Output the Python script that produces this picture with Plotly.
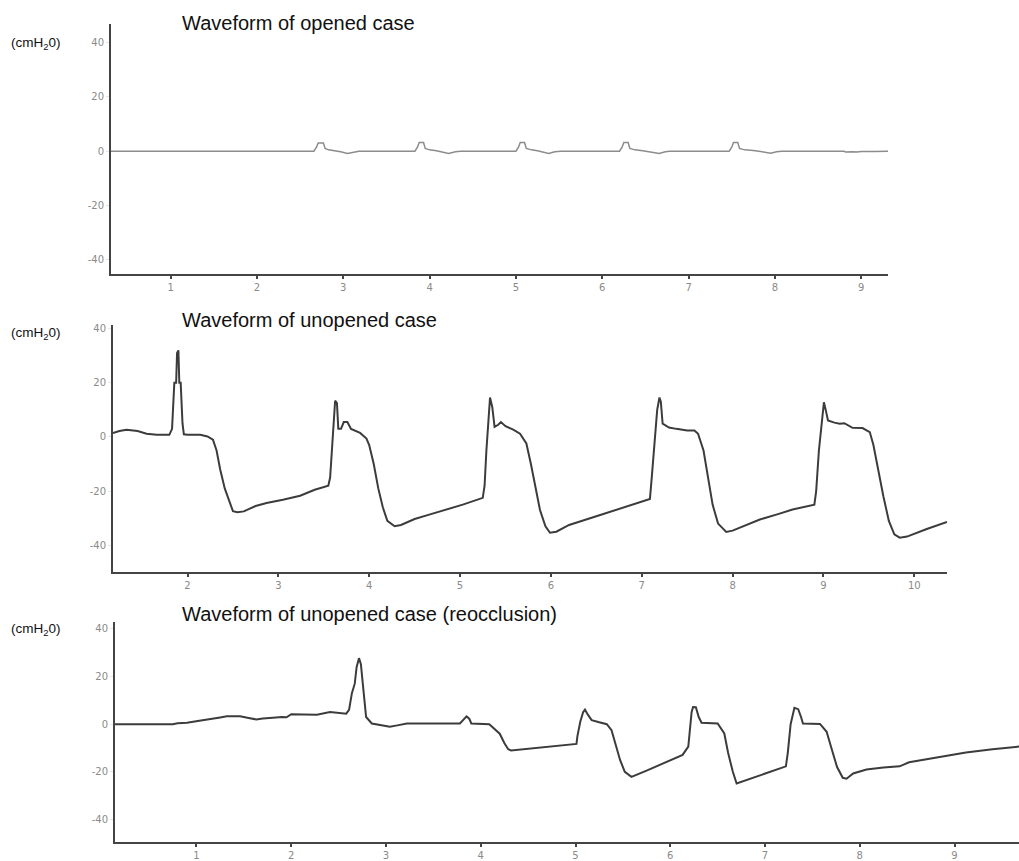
import plotly.graph_objects as go

W, H = 1019, 861

# ---------------- data ----------------
titles = ["Waveform of opened case",
          "Waveform of unopened case",
          "Waveform of unopened case (reocclusion)"]
unit_label = "(cmH<sub>2</sub>0)"

y_tick_vals = [-40, -20, 0, 20, 40]
y_tick_text = ["-40", "-20", "0", "20", "40"]
x_ticks_1 = [1, 2, 3, 4, 5, 6, 7, 8, 9]
x_ticks_2 = [2, 3, 4, 5, 6, 7, 8, 9, 10]
x_ticks_3 = [1, 2, 3, 4, 5, 6, 7, 8, 9]

# Opened case
t1 = [0.31, 1.0, 1.01, 1.5, 1.52, 2.0, 2.02, 2.55, 2.57,
      2.66, 2.69, 2.71, 2.77, 2.79, 2.83, 2.90, 2.97, 3.05, 3.12, 3.18,
      3.83, 3.86, 3.88, 3.93, 3.95, 4.00, 4.08, 4.15, 4.22, 4.30, 4.36,
      5.00, 5.03, 5.05, 5.10, 5.12, 5.18, 5.25, 5.32, 5.38, 5.45, 5.52,
      6.20, 6.23, 6.25, 6.30, 6.32, 6.38, 6.47, 6.55, 6.66, 6.73, 6.78,
      7.47, 7.50, 7.52, 7.57, 7.59, 7.65, 7.75, 7.85, 7.95, 8.02, 8.08,
      8.80, 8.82, 8.90, 8.95, 9.00, 9.10, 9.15, 9.31]
p1 = [0, 0, -0.15, -0.15, 0, 0, -0.15, -0.15, 0,
      0, 1.5, 3.0, 3.0, 1.0, 0.5, 0.2, -0.2, -0.8, -0.3, 0,
      0, 1.5, 3.2, 3.2, 1.0, 0.5, 0.2, -0.3, -0.8, -0.2, 0,
      0, 1.5, 3.2, 3.2, 1.0, 0.5, 0.2, -0.2, -0.8, -0.2, 0,
      0, 1.5, 3.2, 3.2, 1.0, 0.5, 0.2, -0.2, -0.8, -0.2, 0,
      0, 1.5, 3.2, 3.2, 1.0, 0.5, 0.3, -0.1, -0.7, -0.2, 0,
      0, -0.3, -0.2, -0.3, -0.1, -0.2, -0.1, 0]

# Unopened case
t2 = [1.18, 1.25, 1.33, 1.45, 1.55, 1.66, 1.80, 1.83, 1.855, 1.875, 1.885, 1.90,
      1.91, 1.925, 1.945, 1.96, 2.00, 2.14, 2.22, 2.28, 2.32, 2.36, 2.41, 2.46,
      2.50, 2.55, 2.62, 2.75, 2.87, 3.05, 3.24, 3.40, 3.55, 3.57, 3.59, 3.61,
      3.625, 3.645, 3.66, 3.69, 3.72, 3.76, 3.80, 3.90, 3.97, 4.00, 4.05, 4.10,
      4.15, 4.20, 4.28, 4.35, 4.50, 4.67, 4.85, 5.03, 5.25, 5.27, 5.29, 5.31,
      5.33, 5.355, 5.38, 5.42, 5.45, 5.50, 5.58, 5.66, 5.73, 5.78, 5.83, 5.88,
      5.94, 5.99, 6.06, 6.20, 6.50, 6.80, 7.09, 7.11, 7.14, 7.17, 7.195, 7.21,
      7.23, 7.30, 7.38, 7.50, 7.58, 7.62, 7.68, 7.73, 7.78, 7.84, 7.93, 8.00,
      8.15, 8.30, 8.50, 8.66, 8.90, 8.92, 8.95, 8.985, 9.005, 9.025, 9.05, 9.12,
      9.18, 9.23, 9.27, 9.32, 9.43, 9.51, 9.55, 9.60, 9.66, 9.72, 9.78, 9.84,
      9.92, 10.13, 10.36]
p2 = [1.5, 2.2, 2.7, 2.2, 1.2, 0.8, 0.8, 3, 20, 20, 31, 32,
      20, 20, 5, 1, 0.8, 0.8, 0.2, -1, -5, -12, -19, -24,
      -27.4, -27.8, -27.5, -25.5, -24.4, -23.2, -21.7, -19.5, -18, -15, -5, 3,
      13.4, 12.5, 3, 3, 5.5, 5.5, 3.0, 1.5, -0.6, -3, -10, -19,
      -26, -31, -33, -32.5, -30.3, -28.6, -26.8, -25, -22.5, -18, -5, 5,
      14.6, 11, 3.7, 4.5, 5.5, 4, 2.8, 1.2, -2.4, -10, -19, -27,
      -33, -35.4, -35, -32.5, -29.3, -26, -22.9, -15, -2, 10, 14.6, 13,
      4.9, 3.5, 3.0, 2.4, 2.4, 1.2, -5, -15, -25, -32, -35.1, -34.6,
      -32.5, -30.5, -28.5, -26.8, -25, -20, -5, 6, 12.8, 10, 6.1, 5.3,
      4.9, 5.1, 4.2, 3.4, 3.3, 1.8, -3, -12, -22, -31, -36, -37.2,
      -36.8, -34.1, -31.4]

# Unopened case (reocclusion)
t3 = [0.14, 0.75, 0.80, 0.90, 1.03, 1.15, 1.25, 1.32, 1.46, 1.55, 1.63, 1.70,
      1.80, 1.84, 1.90, 1.95, 2.00, 2.15, 2.27, 2.41, 2.50, 2.58, 2.61, 2.64,
      2.67, 2.69, 2.715, 2.735, 2.755, 2.77, 2.79, 2.85, 2.95, 3.04, 3.12, 3.22,
      3.78, 3.82, 3.85, 3.88, 3.90, 4.09, 4.16, 4.20, 4.25, 4.29, 4.32, 5.01,
      5.02, 5.05, 5.08, 5.10, 5.13, 5.17, 5.25, 5.33, 5.38, 5.42, 5.47, 5.52,
      5.59, 5.75, 5.89, 6.13, 6.19, 6.21, 6.225, 6.24, 6.27, 6.30, 6.33, 6.50,
      6.57, 6.61, 6.66, 6.70, 6.87, 7.05, 7.22, 7.24, 7.27, 7.31, 7.35, 7.38,
      7.40, 7.58, 7.65, 7.70, 7.76, 7.82, 7.86, 7.93, 8.07, 8.25, 8.42, 8.52,
      8.70, 8.88, 9.12, 9.40, 9.68]
p3 = [0, 0, 0.4, 0.6, 1.4, 2.0, 2.8, 3.3, 3.3, 2.6, 2.0, 2.4,
      2.5, 2.8, 3.0, 2.9, 4.2, 4.1, 4.0, 5.1, 4.6, 4.4, 6, 13,
      17, 24, 27.7, 25.2, 17, 10, 3, 0.3, -0.3, -1.1, -0.5, 0.3,
      0.3, 2, 3.3, 2.2, 0.3, 0, -2.5, -4, -8, -10.5, -11, -8.3,
      -5, 1, 5, 6.1, 4, 1.7, 0.8, 0, -2.5, -8, -15, -20,
      -22.1, -19.5, -17, -12.9, -9.4, -2, 5, 7.2, 7.1, 3, 0.6, 0.3,
      -3.9, -12, -20, -24.9, -22.5, -20, -17.7, -12, 0, 6.9, 6.3, 3,
      0.3, 0.1, -3.2, -10, -18, -22.5, -22.9, -20.7, -19, -18.2, -17.7, -16,
      -14.8, -13.5, -11.9, -10.5, -9.4]

# ---------------- layout helpers ----------------
def px_x(px):
    return px / W

def px_y(py):
    return 1 - py / H

panels = [
    dict(xl=111, xr=888, yt=22, yb=275, xr_=[0.31, 9.31], yr=[-45.1, 46.9],
         xt=x_ticks_1, color="#8c8c8c", lw=1.5, ty=21, uy=42, t=t1, p=p1),
    dict(xl=113, xr=947, yt=327, yb=577, xr_=[1.18, 10.36], yr=[-50.0, 41.3],
         xt=x_ticks_2, color="#3c3c3c", lw=2, ty=322, uy=335, t=t2, p=p2),
    dict(xl=115, xr=1019, yt=627, yb=850, xr_=[0.14, 9.68], yr=[-49.5, 43.0],
         xt=x_ticks_3, color="#3c3c3c", lw=2, ty=619, uy=635, t=t3, p=p3),
]

fig = go.Figure()
annotations = []
tick_font = dict(family="DejaVu Sans", size=10, color="#8a8a8a")

for i, pn in enumerate(panels, start=1):
    xa = "x" if i == 1 else f"x{i}"
    ya = "y" if i == 1 else f"y{i}"
    fig.add_trace(go.Scatter(x=pn["t"], y=pn["p"], mode="lines",
                             line=dict(color=pn["color"], width=pn["lw"]),
                             xaxis=xa, yaxis=ya, showlegend=False,
                             hoverinfo="skip"))
    xkey = "xaxis" if i == 1 else f"xaxis{i}"
    ykey = "yaxis" if i == 1 else f"yaxis{i}"
    fig.update_layout(**{
        xkey: dict(domain=[px_x(pn["xl"]), px_x(pn["xr"])], range=pn["xr_"],
                   anchor=ya, showgrid=False, zeroline=False, showline=True,
                   linecolor="#444444", linewidth=2, ticks="outside", ticklen=3,
                   tickwidth=2, tickcolor="#444444", tickvals=pn["xt"],
                   ticktext=[str(v) for v in pn["xt"]], tickfont=tick_font,
                   fixedrange=True),
        ykey: dict(domain=[px_y(pn["yb"]), px_y(pn["yt"])], range=pn["yr"],
                   anchor=xa, showgrid=False, zeroline=False, showline=True,
                   linecolor="#444444", linewidth=2, ticks="outside", ticklen=3,
                   tickwidth=1, tickcolor="#e6e6e6", tickvals=y_tick_vals,
                   ticktext=y_tick_text, tickfont=tick_font, fixedrange=True),
    })
    annotations.append(dict(text=titles[i - 1], xref="paper", yref="paper",
                            x=px_x(180), y=px_y(pn["ty"]), xanchor="left",
                            yanchor="middle", showarrow=False,
                            font=dict(family="Liberation Sans", size=20,
                                      color="#111111")))
    annotations.append(dict(text=unit_label, xref="paper", yref="paper",
                            x=px_x(9), y=px_y(pn["uy"]), xanchor="left",
                            yanchor="middle", showarrow=False,
                            font=dict(family="Liberation Sans", size=13.5,
                                      color="#111111")))

fig.update_layout(width=W, height=H, margin=dict(l=0, r=0, t=0, b=0),
                  paper_bgcolor="white", plot_bgcolor="white",
                  annotations=annotations, showlegend=False)

fig.write_html("out.html", config={"displayModeBar": False})
